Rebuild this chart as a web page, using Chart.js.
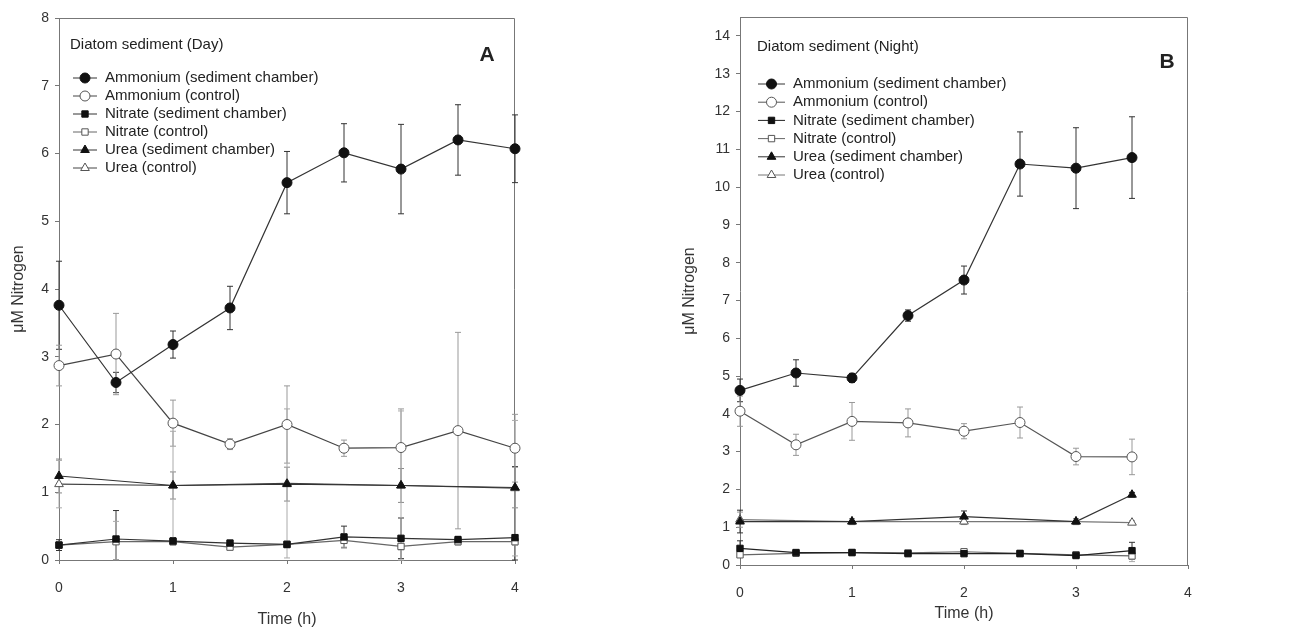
<!DOCTYPE html>
<html>
<head>
<meta charset="utf-8">
<script src="https://cdn.jsdelivr.net/npm/chart.js@4.4.0/dist/chart.umd.min.js"></script>
<style>
  body { margin: 0; background: #fff; width: 1312px; height: 629px; overflow: hidden; position: relative; }
  .panel { position: absolute; top: 0; width: 540px; height: 629px; }
  #panelA { left: 0; }
  #panelB { left: 670px; }
</style>
</head>
<body>
<div class="panel" id="panelA"><canvas id="chartA"></canvas></div>
<div class="panel" id="panelB"><canvas id="chartB"></canvas></div>
<script>
// ----- DATA: PANEL A (day) -----
const timeA = [0, 0.5, 1, 1.5, 2, 2.5, 3, 3.5, 4];
const ureaTimeA = [0, 1, 2, 3, 4];
const ammSedA = [3.76, 2.62, 3.18, 3.72, 5.57, 6.01, 5.77, 6.2, 6.07];
const ammSedErrA = [0.65, 0.15, 0.2, 0.32, 0.46, 0.43, 0.66, 0.52, 0.5];
const ammCtrlA = [2.87, 3.04, 2.02, 1.71, 2.0, 1.65, 1.66, 1.91, 1.65];
const ammCtrlErrA = [0.3, 0.6, 0.34, 0.08, 0.57, 0.12, 0.57, 1.45, 0.5];
const nitSedA = [0.22, 0.31, 0.28, 0.25, 0.23, 0.34, 0.32, 0.3, 0.33];
const nitSedErrA = [0.08, 0.42, 0.05, 0.04, 0.03, 0.16, 0.3, 0.05, 1.05];
const nitCtrlA = [0.22, 0.27, 0.27, 0.19, 0.23, 0.29, 0.2, 0.27, 0.27];
const nitCtrlErrA = [0.05, 0.3, 0.05, 0.04, 0.05, 0.1, 0.05, 0.05, 0.05];
const ureaSedA = [1.24, 1.1, 1.12, 1.1, 1.07];
const ureaSedErrA = [0.25, 0.2, 0.25, 0.25, 0.3];
const ureaCtrlA = [1.12, 1.1, 1.13, 1.1, 1.06];
const ureaCtrlErrA = [0.35, 0.8, 1.1, 1.1, 1.0];
const yTicksA = { min: 0, max: 8 };

// ----- DATA: PANEL B (night) -----
const timeB = [0, 0.5, 1, 1.5, 2, 2.5, 3, 3.5];
const ureaTimeB = [0, 1, 2, 3, 3.5];
const ammSedB = [4.62, 5.08, 4.95, 6.6, 7.54, 10.61, 10.5, 10.78];
const ammSedErrB = [0.3, 0.35, 0.12, 0.15, 0.37, 0.85, 1.07, 1.08];
const ammCtrlB = [4.07, 3.18, 3.8, 3.76, 3.54, 3.77, 2.87, 2.86];
const ammCtrlErrB = [0.4, 0.28, 0.5, 0.37, 0.2, 0.41, 0.22, 0.47];
const nitSedB = [0.44, 0.33, 0.33, 0.3, 0.3, 0.3, 0.25, 0.38];
const nitSedErrB = [0.2, 0.03, 0.05, 0.03, 0.05, 0.03, 0.03, 0.22];
const nitCtrlB = [0.27, 0.31, 0.33, 0.32, 0.35, 0.31, 0.27, 0.24];
const nitCtrlErrB = [0.05, 0.03, 0.03, 0.03, 0.03, 0.03, 0.03, 0.15];
const ureaSedB = [1.15, 1.15, 1.28, 1.15, 1.86];
const ureaSedErrB = [0.3, 0.08, 0.15, 0.08, 0.06];
const ureaCtrlB = [1.2, 1.15, 1.15, 1.15, 1.12];
const ureaCtrlErrB = [0.2, 0.08, 0.08, 0.08, 0.05];
const yTicksB = { min: 0, max: 14.5 };

const labels = [
    "Ammonium (sediment chamber)",
    "Ammonium (control)",
    "Nitrate (sediment chamber)",
    "Nitrate (control)",
    "Urea (sediment chamber)",
    "Urea (control)"
];

const FONT = '"Liberation Sans", Arial, sans-serif';

// ----- PLUGINS -----
const errorBars = {
    id: "errorBars",
    beforeDatasetsDraw(chart) {
        const ctx = chart.ctx;
        const xs = chart.scales.x, ys = chart.scales.y;
        chart.data.datasets.forEach(ds => {
            if (!ds.errors) return;
            ctx.save();
            ctx.strokeStyle = ds.errorColor;
            ctx.lineWidth = 1;
            ds.data.forEach((p, i) => {
                const e = ds.errors[i];
                if (!e) return;
                const px = xs.getPixelForValue(p.x);
                const top = ys.getPixelForValue(p.y + e);
                const bot = ys.getPixelForValue(Math.max(p.y - e, 0));
                ctx.beginPath();
                ctx.moveTo(px, top); ctx.lineTo(px, bot);
                ctx.moveTo(px - 3, top); ctx.lineTo(px + 3, top);
                ctx.moveTo(px - 3, bot); ctx.lineTo(px + 3, bot);
                ctx.stroke();
            });
            ctx.restore();
        });
    }
};

const frame = {
    id: "frame",
    beforeDatasetsDraw(chart) {
        const { ctx, chartArea: a } = chart;
        ctx.save();
        ctx.strokeStyle = "#777";
        ctx.lineWidth = 1;
        ctx.beginPath();
        ctx.moveTo(a.left, a.top + 0.5);
        ctx.lineTo(a.right - 0.5, a.top + 0.5);
        ctx.lineTo(a.right - 0.5, a.bottom);
        ctx.stroke();
        ctx.restore();
    }
};

const panelLegend = {
    id: "panelLegend",
    afterDraw(chart, args, o) {
        const { ctx, chartArea: a } = chart;
        ctx.save();
        ctx.font = "15px " + FONT;
        ctx.textBaseline = "middle";
        ctx.fillStyle = "#222";
        ctx.fillText(o.title, a.left + o.titleX, a.top + o.titleY);
        chart.data.datasets.forEach((ds, i) => {
            const y = a.top + o.rowY + i * o.rowGap;
            const x0 = a.left + o.lineX;
            ctx.strokeStyle = ds.borderColor;
            ctx.lineWidth = 1;
            ctx.beginPath();
            ctx.moveTo(x0, y); ctx.lineTo(x0 + o.lineW, y);
            ctx.stroke();
            ctx.fillStyle = ds.pointBackgroundColor;
            ctx.strokeStyle = ds.pointBorderColor;
            Chart.helpers.drawPoint(ctx, {
                pointStyle: ds.pointStyle, radius: ds.pointRadius, borderWidth: 1, rotation: 0
            }, x0 + o.lineW / 2, y);
            ctx.fillStyle = "#222";
            ctx.fillText(ds.label, a.left + o.textX, y);
        });
        ctx.font = "bold 21px " + FONT;
        ctx.textAlign = "center";
        ctx.fillText(o.letter, a.right - o.letterX, a.top + o.letterY);
        ctx.restore();
    }
};

// ----- HELPERS -----
function pts(times, values) {
    return times.map((t, i) => ({ x: t, y: values[i] }));
}

function series(label, times, values, errors, style, filled, lineColor, errColor) {
    return {
        label: label,
        data: pts(times, values),
        errors: errors,
        errorColor: errColor,
        borderColor: lineColor,
        borderWidth: 1.2,
        pointStyle: style,
        pointRadius: style === "rect" ? 4.5 : 5,
        pointBackgroundColor: filled ? "#111" : "#fff",
        pointBorderColor: filled ? "#111" : "#555",
        pointBorderWidth: 1,
        tension: 0,
        fill: false,
        clip: false
    };
}

function makeChart(id, datasets, yRange, box, legendOpts) {
    return new Chart(document.getElementById(id), {
        type: "line",
        data: { datasets: datasets },
        options: {
            responsive: true,
            maintainAspectRatio: false,
            animation: false,
            layout: { padding: { top: box.top, right: box.right, left: 0, bottom: 0 } },
            plugins: {
                legend: { display: false },
                tooltip: { enabled: false },
                panelLegend: legendOpts
            },
            scales: {
                x: {
                    type: "linear",
                    min: 0, max: 4,
                    afterFit: s => { s.height = box.xHeight; },
                    ticks: { stepSize: 1, color: "#333", padding: 16, font: { size: 14, family: FONT } },
                    grid: { drawOnChartArea: false, tickLength: 4, color: "#777" },
                    border: { color: "#777" },
                    title: { display: true, text: "Time (h)", color: "#333", padding: { top: 0, bottom: box.xTitlePad }, font: { size: 16, family: FONT } }
                },
                y: {
                    min: yRange.min, max: yRange.max,
                    afterFit: s => { s.width = box.yWidth; },
                    ticks: { stepSize: 1, includeBounds: false, color: "#333", padding: 6, font: { size: 14, family: FONT } },
                    grid: { drawOnChartArea: false, tickLength: 4, color: "#777" },
                    border: { color: "#777" },
                    title: { display: true, text: "μM Nitrogen", color: "#333", padding: { top: box.yTitlePad, bottom: 0 }, font: { size: 16, family: FONT } }
                }
            }
        },
        plugins: [frame, errorBars, panelLegend]
    });
}

// ----- PANEL A -----
makeChart("chartA", [
    series(labels[0], timeA, ammSedA, ammSedErrA, "circle", true, "#333", "#333"),
    series(labels[1], timeA, ammCtrlA, ammCtrlErrA, "circle", false, "#444", "#999"),
    series(labels[2], timeA, nitSedA, nitSedErrA, "rect", true, "#333", "#333"),
    series(labels[3], timeA, nitCtrlA, nitCtrlErrA, "rect", false, "#666", "#aaa"),
    series(labels[4], ureaTimeA, ureaSedA, ureaSedErrA, "triangle", true, "#333", "#888"),
    series(labels[5], ureaTimeA, ureaCtrlA, ureaCtrlErrA, "triangle", false, "#444", "#aaa")
], yTicksA,
{ top: 18, right: 25, yWidth: 59, xHeight: 69, xTitlePad: 0, yTitlePad: 9 },
{ title: "Diatom sediment (Day)", titleX: 11, titleY: 27, lineX: 14, lineW: 24, textX: 46, rowY: 60, rowGap: 18, letter: "A", letterX: 28, letterY: 37 });

// ----- PANEL B -----
makeChart("chartB", [
    series(labels[0], timeB, ammSedB, ammSedErrB, "circle", true, "#333", "#333"),
    series(labels[1], timeB, ammCtrlB, ammCtrlErrB, "circle", false, "#555", "#999"),
    series(labels[2], timeB, nitSedB, nitSedErrB, "rect", true, "#222", "#333"),
    series(labels[3], timeB, nitCtrlB, nitCtrlErrB, "rect", false, "#666", "#aaa"),
    series(labels[4], ureaTimeB, ureaSedB, ureaSedErrB, "triangle", true, "#333", "#333"),
    series(labels[5], ureaTimeB, ureaCtrlB, ureaCtrlErrB, "triangle", false, "#777", "#999")
], yTicksB,
{ top: 17, right: 22, yWidth: 70, xHeight: 64, xTitlePad: 6, yTitlePad: 10 },
{ title: "Diatom sediment (Night)", titleX: 17, titleY: 30, lineX: 18, lineW: 27, textX: 53, rowY: 67, rowGap: 18.2, letter: "B", letterX: 21, letterY: 45 });
</script>
</body>
</html>
